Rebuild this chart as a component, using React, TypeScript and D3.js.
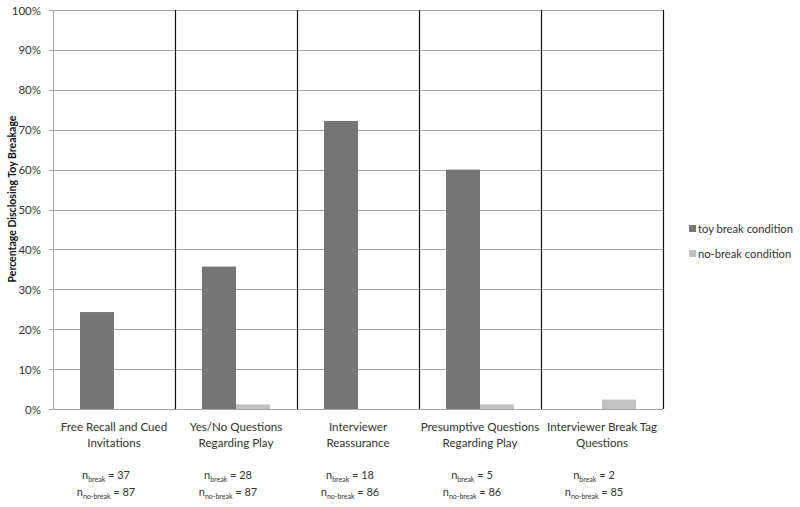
import React from "react";
import * as d3 from "d3";

const categories: string[][] = [
  ["Free Recall and Cued", "Invitations"],
  ["Yes/No Questions", "Regarding Play"],
  ["Interviewer", "Reassurance"],
  ["Presumptive Questions", "Regarding Play"],
  ["Interviewer Break Tag", "Questions"],
];
const breakValues = [24.3, 35.7, 72.2, 60.0, 0];
const noBreakValues = [0, 1.15, 0, 1.16, 2.35];
const nBreak = [37, 28, 18, 5, 2];
const nNoBreak = [87, 87, 86, 86, 85];
const yTicks = [0, 10, 20, 30, 40, 50, 60, 70, 80, 90, 100];
const seriesNames = ["toy break condition", "no-break condition"];
const colors = ["#767676", "#c0c0c0"];

const W = 800, H = 507;
const left = 53, right = 663, top = 10, bottom = 409;
const FONT = "Lato, 'Open Sans', sans-serif";

export default function App() {
  const x = d3.scaleBand<number>().domain(d3.range(categories.length)).range([left, right]).paddingInner(0).paddingOuter(0);
  const y = d3.scaleLinear().domain([0, 100]).range([bottom, top]);
  const bw = x.bandwidth();
  const barW = bw * 34 / 122;
  const inner = d3.scaleBand<number>().domain([0, 1]).range([0, barW * 2]);

  return (
    <svg width={W} height={H} style={{ position: "absolute", left: 0, top: 0 }} fontFamily={FONT}>
      <rect x={0} y={0} width={W} height={H} fill="#fff" />
      {yTicks.map((t) => (
        <g key={t}>
          <line x1={left - 4} x2={right} y1={Math.round(y(t)) + 0.5} y2={Math.round(y(t)) + 0.5} stroke="#a6a6a6" strokeWidth={1} />
          <text x={41} y={y(t) + 4.5} textAnchor="end" fontSize={11.5} fill="#333">{t}%</text>
        </g>
      ))}
      <line x1={left + 0.5} x2={left + 0.5} y1={top} y2={bottom} stroke="#a6a6a6" />
      {categories.map((c, i) => {
        const x0 = x(i)!;
        const start = x0 + bw / 2 - barW;
        return (
          <g key={i}>
            {[breakValues[i], noBreakValues[i]].map((v, s) => (
              v > 0 ? (
                <rect key={s} x={start + inner(s)!} y={y(v)} width={inner.bandwidth()} height={bottom - y(v)} fill={colors[s]} />
              ) : null
            ))}
            <line x1={Math.round(x0 + bw) + 0.5} x2={Math.round(x0 + bw) + 0.5} y1={top} y2={bottom} stroke="#111" strokeWidth={1.2} />
            {c.map((line, k) => (
              <text key={k} x={x0 + bw / 2} y={431 + k * 16} textAnchor="middle" fontSize={11.6} fill="#333">{line}</text>
            ))}
            <text x={x0 + bw / 2 - 8} y={479} textAnchor="middle" fontSize={11} fill="#333">
              n<tspan fontSize={7} dy={3}>break</tspan><tspan dy={-3}> = {nBreak[i]}</tspan>
            </text>
            <text x={x0 + bw / 2 - 8} y={496} textAnchor="middle" fontSize={11} fill="#333">
              n<tspan fontSize={7} dy={3}>no-break</tspan><tspan dy={-3}> = {nNoBreak[i]}</tspan>
            </text>
          </g>
        );
      })}
      <text transform={`translate(16,199) rotate(-90)`} textAnchor="middle" fontSize={10.5} fontWeight="bold" fill="#111">
        Percentage Disclosing Toy Breakage
      </text>
      {seriesNames.map((n, i) => (
        <g key={n}>
          <rect x={689} y={225 + i * 25} width={7} height={7} fill={colors[i]} />
          <text x={698} y={233 + i * 25} fontSize={11.2} fill="#333">{n}</text>
        </g>
      ))}
    </svg>
  );
}
